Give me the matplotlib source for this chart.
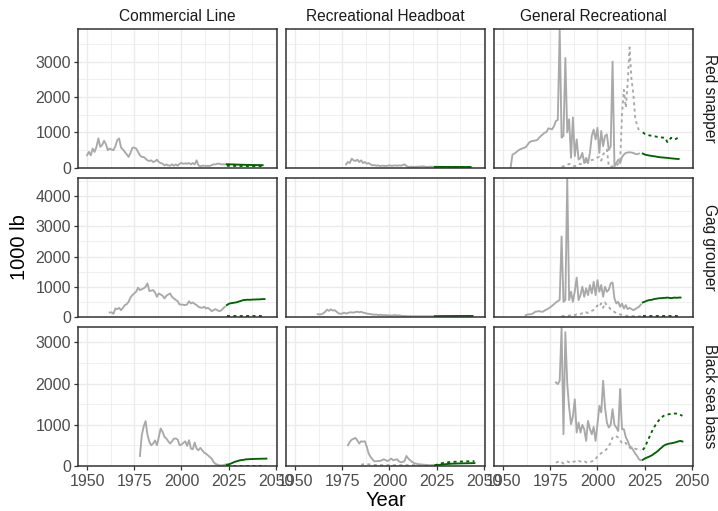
import numpy as np
import matplotlib
matplotlib.use("Agg")
import matplotlib.pyplot as plt
from matplotlib.ticker import MultipleLocator

plt.rcParams['font.family'] = ['Liberation Sans', 'DejaVu Sans']

fleets = ["Commercial Line", "Recreational Headboat", "General Recreational"]
species = ["Red snapper", "Gag grouper", "Black sea bass"]

# projection years per species
rs_proj_start, rs_proj_end = 2024, 2043
gag_proj_start, gag_proj_end = 2024, 2044
bsb_proj_start, bsb_proj_end = 2024, 2045

# ---- Red snapper (1000 lb) ----
rs_cl_start = 1950
rs_cl_land = [352, 447, 352, 543, 447, 590, 828, 590, 638, 762,
              666, 495, 543, 514, 495, 609, 780, 828, 571, 514,
              447, 381, 305, 419, 562, 571, 543, 447, 352, 305,
              305, 257, 209, 190, 209, 162, 181, 228, 162, 133,
              114, 67, 95, 67, 57, 95, 57, 95, 57, 114,
              133, 114, 124, 114, 133, 95, 133, 95, 209, 67,
              38, 57, 57, 48, 57, 48, 76, 95, 95, 114,
              114, 95, 95, 95]
rs_cl_proj_land = [100, 98, 96, 94, 92, 90, 88, 86, 85, 84,
                   82, 80, 79, 78, 77, 76, 75, 75, 74, 73]
rs_cl_proj_disc = [55, 54, 53, 52, 52, 51, 50, 50, 49, 49,
                   48, 48, 47, 47, 47, 46, 46, 46, 45, 45]

rs_hb_start = 1977
rs_hb_land = [95, 162, 133, 257, 209, 190, 228, 162, 209, 133,
              162, 114, 133, 95, 67, 76, 57, 67, 48, 57,
              57, 48, 57, 67, 57, 57, 67, 57, 67, 57,
              76, 95, 48, 19, 29, 29, 19, 29, 29, 29,
              38, 38, 29, 19, 29, 29, 29]
rs_hb_proj_land = [25, 25, 24, 24, 24, 23, 23, 23, 23, 22,
                   22, 22, 22, 22, 21, 21, 21, 21, 21, 21]
rs_hb_proj_disc = [12, 12, 12, 12, 12, 12, 12, 12, 12, 12,
                   12, 12, 12, 12, 12, 12, 12, 12, 12, 12]

rs_gr_start = 1954
rs_gr_land = [0, 370, 400, 440, 486, 520, 540, 560, 580, 650,
              720, 752, 760, 770, 780, 840, 895, 940, 990, 1009,
              1114, 1100, 1085, 1180, 1323, 1350, 3920, 850, 900, 3100,
              1000, 1370, 280, 1420, 330, 800, 230, 280, 420, 130,
              280, 130, 420, 900, 1080, 800, 1130, 420, 1040, 610,
              900, 940, 500, 600, 3000, 40, 133, 228, 133, 300,
              371, 419, 430, 438, 430, 419, 390, 380, 400]
rs_gr_disc_start = 1981
rs_gr_disc = [30, 40, 60, 80, 110, 90, 60, 40, 70, 110,
              100, 130, 150, 170, 180, 200, 220, 230, 260, 290,
              305, 200, 371, 450, 514, 40, 30, 40, 50, 60,
              110, 150, 1500, 2200, 1700, 2400, 3400, 2500, 2100, 1400,
              1200, 1050, 1000]
rs_gr_proj_land = [400, 375, 360, 350, 340, 330, 325, 315, 305, 298,
                   292, 288, 283, 278, 272, 265, 260, 255, 250, 248]
rs_gr_proj_disc = [1000, 960, 940, 920, 910, 900, 895, 880, 870, 860,
                   855, 850, 840, 724, 780, 847, 820, 800, 830, 847]

# ---- Gag grouper ----
gag_cl_start = 1962
gag_cl_land = [144, 150, 100, 278, 255, 300, 222, 300, 390, 420,
               500, 640, 720, 780, 833, 966, 888, 920, 944, 1000,
               1110, 855, 870, 888, 810, 666, 777, 740, 700, 610,
               700, 740, 777, 666, 610, 560, 520, 410, 410, 400,
               390, 410, 520, 444, 477, 430, 390, 333, 310, 300,
               333, 278, 300, 255, 189, 222, 255, 220, 189, 211,
               278, 333]
gag_cl_proj_land = [389, 430, 450, 460, 470, 480, 500, 520, 540, 560,
                    560, 570, 565, 570, 575, 575, 580, 578, 585, 590, 590]
gag_cl_proj_disc = [15, 15, 15, 15, 15, 15, 15, 15, 15, 15,
                    15, 15, 15, 15, 15, 15, 15, 15, 15, 15, 15]

gag_hb_start = 1962
gag_hb_land = [90, 80, 90, 120, 170, 240, 200, 250, 210, 220,
               170, 120, 100, 110, 140, 110, 130, 150, 150, 140,
               160, 170, 150, 170, 140, 130, 110, 100, 90, 80,
               70, 80, 60, 70, 60, 50, 60, 50, 50, 40,
               50, 60, 40, 50, 40, 30, 30, 25, 20, 25,
               20, 20, 20, 20, 20, 20, 20, 20, 20, 20,
               20, 20]
gag_hb_proj_land = [25, 25, 26, 26, 27, 27, 28, 28, 28, 29,
                    29, 29, 30, 30, 30, 30, 30, 31, 31, 31, 31]
gag_hb_proj_disc = [10, 10, 10, 10, 10, 10, 10, 10, 10, 10,
                    10, 10, 10, 10, 10, 10, 10, 10, 10, 10, 10]

gag_gr_start = 1962
gag_gr_land = [55, 78, 85, 89, 120, 167, 180, 189, 175, 167,
               210, 240, 278, 320, 366, 420, 480, 522, 560, 2664,
               500, 555, 4600, 555, 832, 500, 855, 1300, 555, 720,
               1000, 666, 944, 720, 1055, 777, 1165, 720, 1220, 832,
               1055, 666, 1000, 832, 900, 1110, 1140, 610, 444, 500,
               333, 444, 278, 390, 255, 300, 260, 222, 255, 300,
               333, 410]
gag_gr_disc_start = 1981
gag_gr_disc = [20, 30, 40, 50, 40, 50, 30, 60, 80, 70,
               90, 120, 100, 150, 130, 160, 200, 230, 300, 380,
               330, 450, 300, 480, 370, 330, 250, 220, 160, 120,
               100, 80, 60, 40, 40, 30, 30, 25, 25, 20,
               20, 20, 20]
gag_gr_proj_land = [477, 500, 530, 550, 560, 570, 590, 600, 610, 620,
                    620, 630, 630, 640, 630, 620, 630, 640, 630, 640, 640]
gag_gr_proj_disc = [30, 30, 30, 30, 30, 30, 30, 30, 30, 30,
                    30, 30, 30, 30, 30, 30, 30, 30, 30, 30, 30]

# ---- Black sea bass ----
bsb_cl_start = 1978
bsb_cl_land = [244, 750, 960, 1090, 760, 585, 504, 545, 620, 504,
               700, 910, 830, 707, 667, 600, 545, 600, 667, 667,
               640, 504, 520, 560, 600, 488, 626, 423, 406, 570,
               423, 382, 440, 380, 325, 300, 260, 220, 180, 98,
               50, 33, 16, 16, 16, 33]
bsb_cl_proj_land = [33, 40, 55, 75, 98, 110, 125, 138, 145, 150, 160,
                    163, 165, 168, 170, 172, 173, 175, 176, 177, 178, 179]
bsb_cl_proj_disc = [10, 10, 10, 10, 10, 10, 10, 10, 10, 10, 10,
                    10, 10, 10, 10, 10, 10, 10, 10, 10, 10, 10]

bsb_hb_start = 1978
bsb_hb_land = [504, 585, 640, 660, 683, 620, 545, 600, 590, 600,
               463, 300, 220, 163, 114, 114, 120, 122, 140, 163,
               140, 120, 150, 180, 140, 150, 163, 114, 90, 100,
               120, 244, 180, 138, 98, 70, 57, 45, 41, 35,
               30, 28, 25, 20, 18, 16]
bsb_hb_disc_start = 1985
bsb_hb_disc = [30, 40, 50, 45, 40, 35, 30, 25, 25, 20,
               20, 20, 20, 20, 20, 20, 20, 20, 20, 20,
               20, 20, 20, 20, 20, 20, 20, 20, 20, 20,
               20, 20, 20, 20, 20, 20, 20, 20, 20]
bsb_hb_proj_land = [16, 20, 25, 30, 35, 40, 45, 50, 52, 55, 57,
                    58, 60, 62, 63, 64, 65, 66, 67, 68, 69, 70]
bsb_hb_proj_disc = [20, 30, 45, 60, 70, 80, 85, 90, 95, 98, 100,
                    103, 105, 107, 108, 110, 112, 113, 114, 115, 116, 117]

bsb_gr_start = 1978
bsb_gr_land = [2030, 1990, 2070, 3370, 770, 3250, 2000, 1420, 1015, 1200,
               1620, 812, 1055, 812, 1000, 893, 610, 1096, 900, 771,
               950, 610, 1015, 1460, 1300, 2070, 1420, 1055, 934, 1000,
               1380, 1000, 934, 850, 1868, 893, 893, 700, 610, 487,
               450, 380, 300, 243, 162, 138]
bsb_gr_disc_start = 1978
bsb_gr_disc = [81, 100, 122, 90, 60, 80, 110, 90, 70, 100,
               110, 90, 120, 110, 100, 120, 90, 80, 100, 110,
               122, 170, 230, 284, 310, 340, 365, 420, 487, 560,
               690, 730, 720, 690, 620, 560, 528, 560, 500, 447,
               420, 400, 420, 406, 390, 382]
bsb_gr_proj_land = [150, 179, 200, 220, 240, 265, 300, 330, 365, 410, 447,
                    490, 515, 530, 544, 550, 560, 570, 585, 600, 609, 595]
bsb_gr_proj_disc = [390, 450, 550, 650, 760, 853, 940, 1015, 1080, 1137, 1180,
                    1218, 1235, 1250, 1259, 1265, 1270, 1275, 1270, 1259, 1240, 1218]


def yrs(start, vals):
    return np.arange(start, start + len(vals))


proj = {
    "Red snapper": (rs_proj_start, rs_proj_end),
    "Gag grouper": (gag_proj_start, gag_proj_end),
    "Black sea bass": (bsb_proj_start, bsb_proj_end),
}

# (land_start, land, disc_start, disc, proj_land, proj_disc)
panels = {
    ("Red snapper", "Commercial Line"): (rs_cl_start, rs_cl_land, None, None, rs_cl_proj_land, rs_cl_proj_disc),
    ("Red snapper", "Recreational Headboat"): (rs_hb_start, rs_hb_land, None, None, rs_hb_proj_land, rs_hb_proj_disc),
    ("Red snapper", "General Recreational"): (rs_gr_start, rs_gr_land, rs_gr_disc_start, rs_gr_disc, rs_gr_proj_land, rs_gr_proj_disc),
    ("Gag grouper", "Commercial Line"): (gag_cl_start, gag_cl_land, None, None, gag_cl_proj_land, gag_cl_proj_disc),
    ("Gag grouper", "Recreational Headboat"): (gag_hb_start, gag_hb_land, None, None, gag_hb_proj_land, gag_hb_proj_disc),
    ("Gag grouper", "General Recreational"): (gag_gr_start, gag_gr_land, gag_gr_disc_start, gag_gr_disc, gag_gr_proj_land, gag_gr_proj_disc),
    ("Black sea bass", "Commercial Line"): (bsb_cl_start, bsb_cl_land, None, None, bsb_cl_proj_land, bsb_cl_proj_disc),
    ("Black sea bass", "Recreational Headboat"): (bsb_hb_start, bsb_hb_land, bsb_hb_disc_start, bsb_hb_disc, bsb_hb_proj_land, bsb_hb_proj_disc),
    ("Black sea bass", "General Recreational"): (bsb_gr_start, bsb_gr_land, bsb_gr_disc_start, bsb_gr_disc, bsb_gr_proj_land, bsb_gr_proj_disc),
}

GRAY = "#A9A9A9"
GREEN = "#006400"
LW = 1.35
DOT = (0, (1.6, 1.8))

L, R, T, B = 0.1086, 0.9652, 0.9432, 0.0881
fig, axes = plt.subplots(3, 3, figsize=(7.18, 5.11), dpi=100, sharex=True, sharey="row")
fig.subplots_adjust(left=L, right=R, top=T, bottom=B, wspace=0.045, hspace=0.075)

for i, sp in enumerate(species):
    row_max = 0
    for j, fl in enumerate(fleets):
        ax = axes[i, j]
        ls, land, ds, disc, pl, pd = panels[(sp, fl)]
        p0, p1 = proj[sp]
        py = np.arange(p0, p1 + 1)
        ax.plot(yrs(ls, land), land, color=GRAY, lw=LW, zorder=3)
        if disc is not None:
            ax.plot(yrs(ds, disc), disc, color=GRAY, lw=LW, ls=DOT, zorder=3)
        ax.plot(py, pl, color=GREEN, lw=LW, zorder=4)
        ax.plot(py, pd, color=GREEN, lw=LW, ls=DOT, zorder=4)
        row_max = max(row_max, max(land), max(pl), max(pd), max(disc) if disc else 0)

        ax.set_facecolor("white")
        ax.xaxis.set_major_locator(MultipleLocator(25))
        ax.xaxis.set_minor_locator(MultipleLocator(12.5))
        ax.yaxis.set_major_locator(MultipleLocator(1000))
        ax.yaxis.set_minor_locator(MultipleLocator(500))
        ax.grid(which="major", color="#EBEBEB", lw=1.0, zorder=0)
        ax.grid(which="minor", color="#EBEBEB", lw=0.55, zorder=0)
        ax.set_axisbelow(True)
        for s in ax.spines.values():
            s.set_color("#333333")
            s.set_linewidth(1.1)
            s.set_zorder(5)
        ax.tick_params(which="minor", length=0)
        ax.tick_params(which="major", length=3, width=0.9, color="#333333",
                       labelcolor="#4D4D4D", labelsize=11.5, pad=2)
        ax.tick_params(axis="x", pad=3)
        if j != 0:
            ax.tick_params(axis="y", length=0)
        if i != 2:
            ax.tick_params(axis="x", length=0)
        if i == 0:
            ax.set_title(fl, fontsize=11.2, color="#1A1A1A", pad=6)
        if j == 2:
            ax.text(1.045, 0.5, sp, transform=ax.transAxes, rotation=270,
                    ha="left", va="center", fontsize=11.2, color="#1A1A1A")
    axes[i, 0].set_ylim(0, row_max)

axes[0, 0].set_xlim(1945.2, 2050.6)

fig.text((L + R) / 2, 0.002, "Year", ha="center", va="bottom", fontsize=14.5)
fig.text(0.014, (T + B) / 2, "1000 lb", ha="left", va="center", rotation=90, fontsize=14.5)

fig.savefig("out.png", dpi=100)
